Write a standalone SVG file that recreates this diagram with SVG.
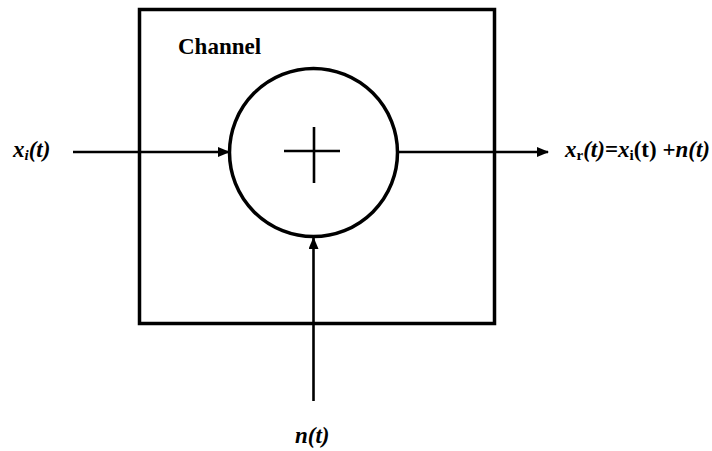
<svg xmlns="http://www.w3.org/2000/svg" width="712" height="451" viewBox="0 0 712 451">
<defs>
<marker id="ah" markerWidth="12" markerHeight="10" refX="11" refY="5" orient="auto" markerUnits="userSpaceOnUse">
<path d="M0,0 L12,5 L0,10 Z" fill="#000"/>
</marker>
<style>
.ln{stroke:#000;stroke-width:2.6;fill:none}
.lbl{font-family:"Liberation Serif","Times New Roman",serif;font-weight:bold;font-size:23px;fill:#000}
.it{font-style:italic}
</style>
</defs>
<rect width="712" height="451" fill="#fff"/>
<g id="channel">
<rect x="139.5" y="9.5" width="355" height="314" fill="none" stroke="#000" stroke-width="3.5"/>
<text class="lbl" x="178" y="54" font-size="22">Channel</text>
</g>
<g id="adder">
<circle cx="313.5" cy="152.5" r="84" fill="none" stroke="#000" stroke-width="3.5"/>
<line class="ln" x1="284" y1="151" x2="340" y2="151" stroke-width="2.5"/>
<line class="ln" x1="314" y1="127" x2="314" y2="183" stroke-width="2.5"/>
</g>
<g id="connectors">
<line class="ln" x1="73" y1="152" x2="229" y2="152" marker-end="url(#ah)"/>
<line class="ln" x1="398" y1="152" x2="548" y2="152" marker-end="url(#ah)"/>
<line class="ln" x1="313.5" y1="401" x2="313.5" y2="238" marker-end="url(#ah)"/>
</g>
<g id="input">
<text class="lbl it" x="13" y="157">x<tspan font-size="15" dy="3">i</tspan><tspan dy="-3">(t)</tspan></text>
</g>
<g id="output">
<text class="lbl" x="565" y="157"><tspan class="it">x</tspan><tspan font-size="15" dy="3">r</tspan><tspan class="it" dy="-3">(t)</tspan>=<tspan class="it">x</tspan><tspan font-size="15" dy="3">i</tspan><tspan dy="-3">(t) +</tspan><tspan class="it">n(t)</tspan></text>
</g>
<g id="noise">
<text class="lbl it" x="295" y="443">n(t)</text>
</g>
</svg>
